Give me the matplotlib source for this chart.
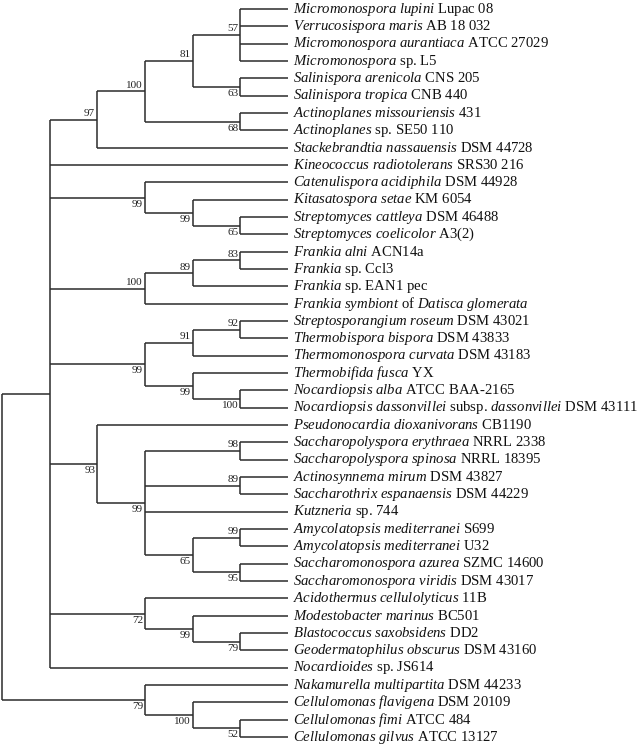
import matplotlib
matplotlib.use("Agg")
import matplotlib.pyplot as plt

plt.rcParams['font.family'] = ['Liberation Serif', 'DejaVu Serif']
plt.rcParams['mathtext.fontset'] = 'custom'
plt.rcParams['mathtext.rm'] = 'Liberation Serif'
plt.rcParams['mathtext.it'] = 'Liberation Serif:italic'

# leaf names, *...* = italic
leaves = [
    "*Micromonospora lupini* Lupac 08",
    "*Verrucosispora maris* AB 18 032",
    "*Micromonospora aurantiaca* ATCC 27029",
    "*Micromonospora* sp. L5",
    "*Salinispora arenicola* CNS 205",
    "*Salinispora tropica* CNB 440",
    "*Actinoplanes missouriensis* 431",
    "*Actinoplanes* sp. SE50 110",
    "*Stackebrandtia nassauensis* DSM 44728",
    "*Kineococcus radiotolerans* SRS30 216",
    "*Catenulispora acidiphila* DSM 44928",
    "*Kitasatospora setae* KM 6054",
    "*Streptomyces cattleya* DSM 46488",
    "*Streptomyces coelicolor* A3(2)",
    "*Frankia alni* ACN14a",
    "*Frankia* sp. Ccl3",
    "*Frankia* sp. EAN1 pec",
    "*Frankia symbiont* of *Datisca glomerata*",
    "*Streptosporangium roseum* DSM 43021",
    "*Thermobispora bispora* DSM 43833",
    "*Thermomonospora curvata* DSM 43183",
    "*Thermobifida fusca* YX",
    "*Nocardiopsis alba* ATCC BAA-2165",
    "*Nocardiopsis dassonvillei* subsp. *dassonvillei* DSM 43111",
    "*Pseudonocardia dioxanivorans* CB1190",
    "*Saccharopolyspora erythraea* NRRL 2338",
    "*Saccharopolyspora spinosa* NRRL 18395",
    "*Actinosynnema mirum* DSM 43827",
    "*Saccharothrix espanaensis* DSM 44229",
    "*Kutzneria* sp. 744",
    "*Amycolatopsis mediterranei* S699",
    "*Amycolatopsis mediterranei* U32",
    "*Saccharomonospora azurea* SZMC 14600",
    "*Saccharomonospora viridis* DSM 43017",
    "*Acidothermus cellulolyticus* 11B",
    "*Modestobacter marinus* BC501",
    "*Blastococcus saxobsidens* DD2",
    "*Geodermatophilus obscurus* DSM 43160",
    "*Nocardioides* sp. JS614",
    "*Nakamurella multipartita* DSM 44233",
    "*Cellulomonas flavigena* DSM 20109",
    "*Cellulomonas fimi* ATCC 484",
    "*Cellulomonas gilvus* ATCC 13127",
]

# tree: (bootstrap, 'a'bove/'b'elow, children); ints are leaf indices
tree = (None, None, [
    (None, None, [
        ("97", "a", [
            ("100", "a", [
                ("81", "a", [("57", "a", [0, 1, 2, 3]), ("63", "b", [4, 5])]),
                ("68", "b", [6, 7]),
            ]),
            8,
        ]),
        9,
        ("99", "b", [10, ("99", "b", [11, ("65", "b", [12, 13])])]),
        ("100", "a", [("89", "a", [("83", "a", [14, 15]), 16]), 17]),
        ("99", "b", [
            ("91", "a", [("92", "a", [18, 19]), 20]),
            ("99", "b", [21, ("100", "b", [22, 23])]),
        ]),
        ("93", "b", [
            24,
            ("99", "b", [
                ("98", "a", [25, 26]),
                ("89", "a", [27, 28]),
                29,
                ("65", "b", [("99", "a", [30, 31]), ("95", "b", [32, 33])]),
            ]),
        ]),
        ("72", "b", [34, ("99", "b", [35, ("79", "b", [36, 37])])]),
        38,
    ]),
    ("79", "b", [39, ("100", "b", [40, ("52", "b", [41, 42])])]),
])


def to_mathtext(s):
    parts = s.split("*")
    out = ""
    for i, p in enumerate(parts):
        if i % 2 == 1:
            out += r"$\mathit{" + p.replace(" ", r"\ ") + "}$"
        else:
            out += p
    return out


def height(node):
    if isinstance(node, int):
        return 0
    return 1 + max(height(c) for c in node[2])


def node_y(node):
    if isinstance(node, int):
        return node
    ys = [node_y(c) for c in node[2]]
    return (ys[0] + ys[-1]) / 2


H = height(tree)

fig = plt.figure(figsize=(6.42, 7.45), dpi=100)
ax = fig.add_axes([0, 0, 1, 1])
ax.set_xlim(-0.042, 13.43)
ax.set_ylim(42.46, -0.52)
ax.axis("off")

lc = "#2b2b2b"
lw = 1.1


def draw(node):
    # returns (x, y) of node
    if isinstance(node, int):
        x, y = H, node
        ax.text(x + 0.11, y, to_mathtext(leaves[node]), fontsize=10.6,
                va="center", ha="left", color="#111111")
        return x, y
    label, pos, children = node
    x = H - height(node)
    pts = [draw(c) for c in children]
    ys = [p[1] for p in pts]
    ax.plot([x, x], [ys[0], ys[-1]], color=lc, lw=lw, solid_capstyle="butt")
    for cx, cy in pts:
        ax.plot([x, cx], [cy, cy], color=lc, lw=lw, solid_capstyle="butt")
    y = (ys[0] + ys[-1]) / 2
    return x, y


def draw_labels(node):
    if isinstance(node, int):
        return
    label, pos, children = node
    x = H - height(node)
    for c in children:
        draw_labels(c)
    if label is not None:
        y = node_y(node)
        if pos == "a":
            ax.annotate(label, (x, y), xytext=(-1.5, 1.2), textcoords="offset points",
                        ha="right", va="bottom", fontsize=8, color="#222222")
        else:
            ax.annotate(label, (x, y), xytext=(-1.5, -1.5), textcoords="offset points",
                        ha="right", va="top", fontsize=8, color="#222222")


draw(tree)
draw_labels(tree)

fig.savefig("out.png", dpi=100)
